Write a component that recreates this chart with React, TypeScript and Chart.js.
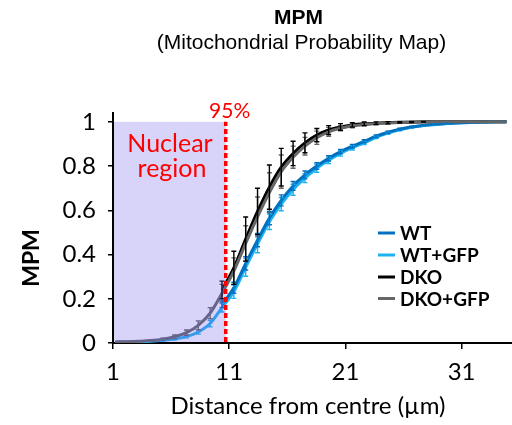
import { useEffect, useRef } from "react";
import { Chart, registerables } from "chart.js";

Chart.register(...registerables);

// Distance from centre (µm) at which each point is sampled
const DIST = [
  1.2, 2.22, 3.24, 4.26, 5.28, 6.3, 7.32, 8.34, 9.36, 10.38,
  11.4, 12.42, 13.44, 14.46, 15.48, 16.5, 17.52, 18.54, 19.56, 20.58,
  21.6, 22.62, 23.64, 24.66, 25.68, 26.7, 27.72, 28.74, 29.76, 30.78,
  31.8, 32.82, 33.84, 34.86,
];

const N = null;

const WT = [
  N, N, N, N, N, N, N, N, N,
  0.175, 0.25, 0.36, 0.465, 0.565, 0.645, 0.71, 0.76, 0.8, 0.835,
  0.865, 0.89, 0.912, 0.935, 0.953, 0.967, 0.977, 0.984, 0.989, 0.993,
  0.996, 0.998, 0.999, 1, 1,
];
const WT_ERR = [
  0, 0, 0, 0, 0, 0, 0, 0, 0,
  0.015, 0.025, 0.03, 0.03, 0.03, 0.025, 0.02, 0.018, 0.015, 0.012,
  0.01, 0.008, 0.007, 0.006, 0.005, 0.004, 0.003, 0.002, 0.002, 0.001,
  0, 0, 0, 0, 0,
];

const WT_GFP = [
  0.004, 0.005, 0.006, 0.008, 0.012, 0.018, 0.029, 0.05, 0.088,
  0.16, 0.232, 0.342, 0.448, 0.548, 0.628, 0.693, 0.745, 0.79, 0.826,
  0.857, 0.883, 0.905, 0.93, 0.949, 0.964, 0.975, 0.983, 0.988, 0.992,
  0.995, 0.997, 0.999, 1, 1,
];
const WT_GFP_ERR = [
  0, 0, 0, 0, 0.002, 0.004, 0.006, 0.01, 0.015,
  0.02, 0.03, 0.04, 0.04, 0.035, 0.03, 0.025, 0.02, 0.018, 0.015,
  0.012, 0.01, 0.008, 0.006, 0.005, 0.004, 0.003, 0.002, 0.002, 0.001,
  0, 0, 0, 0, 0,
];

const DKO = [
  N, N, N, N, N, N, N, N, N,
  0.24, 0.34, 0.47, 0.595, 0.705, 0.795, 0.857, 0.905, 0.94, 0.963,
  0.977, 0.986, 0.991, 0.994, 0.996, 0.998, 0.999, 1, 1, 1,
  1, 1, 1, 1, 1,
];
const DKO_ERR = [
  0, 0, 0, 0, 0, 0, 0, 0, 0,
  0.04, 0.075, 0.1, 0.105, 0.1, 0.085, 0.055, 0.045, 0.03, 0.02,
  0.015, 0.01, 0.008, 0.006, 0.005, 0.003, 0.002, 0.001, 0, 0,
  0, 0, 0, 0, 0,
];

const DKO_GFP = [
  0.005, 0.006, 0.008, 0.011, 0.017, 0.028, 0.047, 0.08, 0.135,
  0.225, 0.325, 0.45, 0.57, 0.68, 0.775, 0.84, 0.89, 0.928, 0.955,
  0.971, 0.981, 0.988, 0.992, 0.995, 0.997, 0.998, 0.999, 1, 1,
  1, 1, 1, 1, 1,
];
const DKO_GFP_ERR = [
  0, 0, 0, 0.003, 0.005, 0.008, 0.012, 0.02, 0.025,
  0.04, 0.06, 0.08, 0.09, 0.09, 0.075, 0.05, 0.04, 0.03, 0.02,
  0.012, 0.008, 0.006, 0.004, 0.003, 0.002, 0.001, 0, 0, 0,
  0, 0, 0, 0, 0,
];

const X_TICKS = [1, 11, 21, 31];
const Y_TICKS = [0, 0.2, 0.4, 0.6, 0.8, 1];
const X_MIN = 1;
const X_MAX = 35.34;
const Y_MAX = 1.04;
const NUCLEAR_EDGE = 10.7;

const LABELS = ["WT", "WT+GFP", "DKO", "DKO+GFP"];
const COLORS = ["#0070C0", "#1FB2F0", "#000000", "#666666"];
const SERIES = [WT, WT_GFP, DKO, DKO_GFP];
const ERRORS = [WT_ERR, WT_GFP_ERR, DKO_ERR, DKO_GFP_ERR];
const DRAW_ORDER = [1, 3, 2, 0];

const TITLE = "MPM";
const SUBTITLE = "(Mitochondrial Probability Map)";
const X_TITLE = "Distance from centre (\u00b5m)";
const Y_TITLE = "MPM";

const overlayPlugin = {
  id: "overlay",
  afterDatasetsDraw(chart: any) {
    const { ctx } = chart;
    const xs = chart.scales.x;
    const ys = chart.scales.y;
    // error bars
    [1, 3, 0, 2].forEach((i) => {
      const vals = SERIES[i];
      const errs = ERRORS[i];
      ctx.save();
      ctx.strokeStyle = COLORS[i];
      ctx.lineWidth = 1.4;
      vals.forEach((v: number | null, j: number) => {
        if (v == null || !errs[j]) return;
        const px = xs.getPixelForValue(DIST[j]);
        const top = ys.getPixelForValue(v + errs[j]);
        const bot = ys.getPixelForValue(v - errs[j]);
        ctx.beginPath();
        ctx.moveTo(px, top);
        ctx.lineTo(px, bot);
        ctx.moveTo(px - 2.5, top);
        ctx.lineTo(px + 2.5, top);
        ctx.moveTo(px - 2.5, bot);
        ctx.lineTo(px + 2.5, bot);
        ctx.stroke();
      });
      ctx.restore();
    });
    // nuclear region shade
    const x0 = xs.getPixelForValue(X_MIN) + 1;
    const x1 = xs.getPixelForValue(NUCLEAR_EDGE);
    const yTop = ys.getPixelForValue(1);
    const yBot = ys.getPixelForValue(0) - 1;
    ctx.save();
    ctx.fillStyle = "rgba(112, 92, 232, 0.27)";
    ctx.fillRect(x0, yTop, x1 - x0, yBot - yTop);
    // dashed boundary
    ctx.strokeStyle = "#FF0000";
    ctx.lineWidth = 3.5;
    ctx.setLineDash([5, 3]);
    ctx.beginPath();
    ctx.moveTo(x1, yBot);
    ctx.lineTo(x1, yTop);
    ctx.stroke();
    ctx.setLineDash([]);
    // labels
    ctx.fillStyle = "#FF0000";
    ctx.textAlign = "center";
    ctx.textBaseline = "alphabetic";
    ctx.font = "21px Lato";
    ctx.fillText("95%", x1 + 4, 118);
    ctx.font = "25px Lato";
    ctx.fillText("Nuclear", 170, 152);
    ctx.fillText("region", 172, 177);
    ctx.restore();
  },
  afterDraw(chart: any) {
    const { ctx } = chart;
    ctx.save();
    ctx.fillStyle = "#000";
    ctx.textAlign = "center";
    ctx.textBaseline = "alphabetic";
    ctx.font = "bold 21px 'Liberation Sans'";
    ctx.fillText(TITLE, 298.5, 23.5);
    ctx.font = "21px 'Liberation Sans'";
    ctx.fillText(SUBTITLE, 301.5, 48.5);
    // x title
    ctx.font = "24px Lato";
    ctx.fillText(X_TITLE, 308, 414);
    // y title
    ctx.save();
    ctx.translate(39, 258);
    ctx.rotate(-Math.PI / 2);
    ctx.font = "bold 23px Lato";
    ctx.fillText(Y_TITLE, 0, 0);
    ctx.restore();
    // legend
    const rows = [233, 255, 277, 298.5];
    ctx.textAlign = "left";
    ctx.textBaseline = "middle";
    ctx.font = "bold 19px Lato";
    LABELS.forEach((lab, i) => {
      ctx.strokeStyle = COLORS[i];
      ctx.lineWidth = 3;
      ctx.beginPath();
      ctx.moveTo(378, rows[i]);
      ctx.lineTo(395, rows[i]);
      ctx.stroke();
      ctx.fillStyle = "#000";
      ctx.fillText(lab, 400, rows[i] + 1);
    });
    ctx.restore();
  },
};

export default function App() {
  const ref = useRef<HTMLCanvasElement>(null);
  useEffect(() => {
    document.body.style.margin = "0";
    const datasets = LABELS.map((lab, i) => ({
      label: lab,
      data: SERIES[i].map((v, j) => ({ x: DIST[j], y: v })),
      borderColor: COLORS[i],
      backgroundColor: COLORS[i],
      borderWidth: 3,
      pointRadius: 0,
      cubicInterpolationMode: "monotone" as const,
      spanGaps: false,
      fill: false,
      order: DRAW_ORDER[i],
    }));
    const chart = new Chart(ref.current!, {
      type: "line",
      data: { datasets },
      options: {
        animation: false,
        responsive: false,
        devicePixelRatio: 1,
        layout: { padding: { top: 113, left: 0, right: 0, bottom: 0 } },
        plugins: {
          legend: { display: false },
          tooltip: { enabled: false },
          title: { display: false },
        },
        scales: {
          x: {
            type: "linear",
            min: X_MIN,
            max: X_MAX,
            afterBuildTicks: (axis: any) => {
              axis.ticks = X_TICKS.map((v) => ({ value: v }));
            },
            afterFit: (s: any) => {
              s.height = 82;
            },
            grid: {
              display: true,
              drawOnChartArea: false,
              drawTicks: true,
              tickLength: 6,
              color: "#000",
              lineWidth: 1.5,
            },
            border: { display: true, color: "#000", width: 2 },
            ticks: {
              color: "#000",
              font: { family: "Lato", size: 24 },
              padding: 9,
              maxRotation: 0,
              autoSkip: false,
              callback: (v: any) => String(v),
            },
          },
          y: {
            type: "linear",
            min: 0,
            max: Y_MAX,
            afterBuildTicks: (axis: any) => {
              axis.ticks = Y_TICKS.map((v) => ({ value: v }));
            },
            afterFit: (s: any) => {
              s.width = 113;
            },
            grid: {
              display: true,
              drawOnChartArea: false,
              drawTicks: true,
              tickLength: 5,
              color: "#000",
              lineWidth: 1.5,
            },
            border: { display: true, color: "#000", width: 2 },
            ticks: {
              color: "#000",
              font: { family: "Lato", size: 24 },
              padding: 12,
              autoSkip: false,
              callback: (v: any) => String(Math.round(Number(v) * 10) / 10),
            },
          },
        },
      },
      plugins: [overlayPlugin],
    });
    return () => chart.destroy();
  }, []);
  return (
    <div style={{ width: 512, height: 425 }}>
      <canvas ref={ref} width={512} height={425} style={{ display: "block" }} />
    </div>
  );
}
